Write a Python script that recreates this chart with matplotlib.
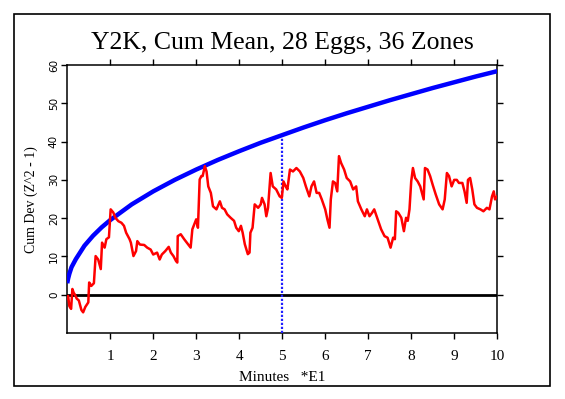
import matplotlib
matplotlib.use("Agg")
import matplotlib.pyplot as plt
from matplotlib.patches import Rectangle

# ---- data ----
red_x = [0.00, 0.02, 0.05, 0.09, 0.12, 0.15, 0.18, 0.22, 0.27, 0.33, 0.37, 0.42, 0.49, 0.51,
         0.56, 0.62, 0.66, 0.72, 0.78, 0.81, 0.87, 0.91, 0.97, 1.01, 1.07, 1.12, 1.19, 1.26,
         1.32, 1.37, 1.45, 1.48, 1.54, 1.60, 1.63, 1.69, 1.79, 1.86, 1.94, 2.00, 2.09, 2.15,
         2.20, 2.28, 2.36, 2.41, 2.47, 2.53, 2.56, 2.57, 2.64, 2.72, 2.81, 2.87, 2.91, 2.97,
         3.00, 3.04, 3.08, 3.12, 3.15, 3.20, 3.24, 3.28, 3.34, 3.39, 3.47, 3.55, 3.60, 3.66,
         3.72, 3.80, 3.88, 3.93, 3.99, 4.04, 4.08, 4.13, 4.20, 4.24, 4.26, 4.31, 4.36, 4.44,
         4.50, 4.53, 4.59, 4.63, 4.67, 4.73, 4.78, 4.86, 4.94, 4.99, 5.03, 5.08, 5.12, 5.18,
         5.25, 5.33, 5.41, 5.49, 5.55, 5.63, 5.68, 5.74, 5.80, 5.86, 5.92, 6.00, 6.05, 6.10,
         6.13, 6.18, 6.23, 6.28, 6.32, 6.37, 6.44, 6.50, 6.58, 6.65, 6.72, 6.76, 6.84, 6.92,
         6.97, 7.03, 7.09, 7.14, 7.22, 7.30, 7.38, 7.45, 7.52, 7.58, 7.62, 7.65, 7.70, 7.77,
         7.83, 7.88, 7.92, 7.96, 8.00, 8.04, 8.09, 8.15, 8.21, 8.29, 8.32, 8.38, 8.44, 8.50,
         8.57, 8.65, 8.73, 8.78, 8.83, 8.88, 8.94, 9.00, 9.06, 9.11, 9.19, 9.24, 9.29, 9.32,
         9.37, 9.42, 9.47, 9.53, 9.61, 9.68, 9.76, 9.82, 9.88, 9.92, 9.95, 10.00]
red_y = [-1.0, -0.3, -3.0, -3.7, 1.5, 0.5, 0.0, -1.0, -1.5, -4.0, -4.6, -3.2, -2.0, 3.2,
         2.3, 3.0, 10.1, 9.2, 6.7, 13.6, 12.3, 14.5, 15.0, 22.3, 21.5, 20.1, 19.2, 18.8,
         18.0, 16.2, 14.5, 13.6, 10.1, 11.4, 14.0, 13.1, 13.0, 12.3, 11.8, 10.5, 11.0, 9.2,
         10.5, 11.4, 12.5, 11.0, 10.1, 8.8, 8.4, 15.3, 15.8, 14.5, 13.2, 12.3, 17.1, 18.8,
         19.7, 17.5, 30.1, 31.0, 31.0, 33.6, 32.2, 28.3, 26.6, 23.1, 22.3, 24.4, 22.7, 22.3,
         21.0, 20.1, 19.3, 17.5, 16.6, 18.0, 16.2, 13.2, 10.6, 11.0, 16.2, 17.5, 23.6, 22.7,
         23.6, 25.3, 23.6, 20.5, 22.7, 31.8, 28.3, 27.5, 25.7, 25.3, 29.6, 28.3, 27.5, 32.7,
         32.2, 33.1, 32.2, 30.5, 28.3, 25.7, 28.3, 29.6, 26.6, 26.6, 24.9, 22.3, 19.7, 17.5,
         24.9, 29.6, 29.2, 27.0, 36.2, 34.4, 32.7, 30.5, 29.6, 27.5, 28.3, 24.4, 22.3, 20.5,
         22.3, 20.5, 21.4, 22.3, 19.7, 17.1, 15.3, 14.9, 12.3, 14.9, 14.5, 21.8, 21.4, 20.1,
         16.6, 20.1, 19.3, 22.3, 29.6, 33.1, 30.5, 29.6, 28.3, 24.9, 33.1, 32.7, 31.0, 28.7,
         26.2, 23.6, 22.3, 24.9, 31.8, 31.0, 28.3, 30.0, 30.0, 29.2, 29.2, 27.0, 24.0, 30.0,
         30.5, 27.5, 23.6, 22.7, 22.3, 21.8, 22.7, 22.3, 25.7, 27.0, 24.9, 25.7]

blue_x = [0.0, 0.02, 0.05, 0.1, 0.2, 0.4, 0.6, 0.8, 1.0, 1.5, 2.0, 2.5, 3.0, 3.5, 4.0,
          4.5, 5.0, 5.5, 6.0, 6.5, 7.0, 7.5, 8.0, 8.5, 9.0, 9.5, 10.0]
blue_y = [3.0, 4.2, 5.5, 7.2, 9.3, 12.8, 15.4, 17.6, 19.5, 23.6, 27.0, 30.0, 32.7, 35.2, 37.5,
          39.7, 41.7, 43.7, 45.6, 47.4, 49.1, 50.8, 52.4, 54.0, 55.5, 57.0, 58.4]

marker_x = 5.0
marker_top = 41.7

x_ticks = [1, 2, 3, 4, 5, 6, 7, 8, 9, 10]
y_ticks = [0, 10, 20, 30, 40, 50, 60]

title = "Y2K, Cum Mean, 28 Eggs, 36 Zones"
xlabel = "Minutes   *E1"
ylabel = "Cum Dev (Z^2 - 1)"

# ---- figure ----
fig = plt.figure(figsize=(5.65, 3.99), dpi=100)
fig.patch.set_facecolor("white")
fig.patches.append(Rectangle((0.0248, 0.0326), 0.9487, 0.9324, transform=fig.transFigure,
                             fill=False, edgecolor="black", linewidth=1.2))

ax = fig.add_axes([0.119, 0.1654, 0.761, 0.6716])
ax.set_xlim(0, 10)
ax.set_ylim(-10, 60)

ax.axhline(0, color="black", linewidth=2.0, zorder=2)
ax.plot([marker_x, marker_x], [-10, marker_top], color="#2020ff", linewidth=1.6,
        linestyle=(0, (1, 0.8)), zorder=3)
ax.plot(blue_x, blue_y, color="#0000ff", linewidth=3.2, zorder=4, solid_capstyle="butt")
ax.plot(red_x, red_y, color="#ff0000", linewidth=1.8, zorder=5)

ax.set_xticks(x_ticks)
ax.set_yticks(y_ticks)
ax.set_xticklabels([str(t) for t in x_ticks], family="Liberation Serif", fontsize=11)
ax.set_yticklabels([str(t) for t in y_ticks], family="DejaVu Sans", fontsize=7.5,
                   rotation=90, va="center")
ax.tick_params(axis="both", direction="out", length=4, width=1, color="black")
ax.tick_params(axis="x", top=True, labeltop=False, pad=8)
ax.tick_params(axis="y", right=True, labelright=False, pad=2)
for s in ax.spines.values():
    s.set_linewidth(1.1)

fig.text(0.5, 0.892, title, family="Liberation Serif", fontsize=18.5, ha="center", va="center")
fig.text(0.5, 0.055, xlabel, family="Liberation Serif", fontsize=11, ha="center", va="center")
fig.text(0.055, 0.50, ylabel, family="Liberation Serif", fontsize=10, rotation=90,
         ha="center", va="center")

fig.savefig("out.png", dpi=100)
